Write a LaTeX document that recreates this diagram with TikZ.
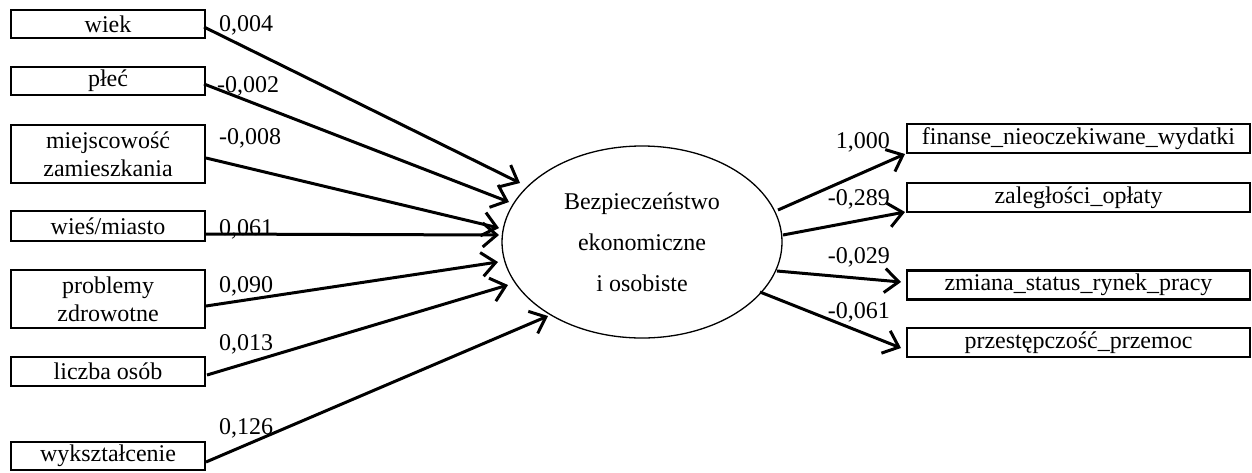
\documentclass[tikz,border=0pt]{standalone}
\usepackage{fontspec}
\setmainfont{Liberation Serif}
\usetikzlibrary{arrows.meta,shapes.geometric}
\begin{document}
\begin{tikzpicture}[x=1pt,y=-1pt,
  font=\fontsize{24}{28}\selectfont,
  inbox/.style={draw,line width=2.5pt,minimum width=194pt,inner sep=0pt,align=center},
  outbox/.style={draw,line width=2.5pt,minimum width=343pt,minimum height=29pt,inner sep=0pt},
  path/.style={line width=3pt,-{Straight Barb[length=14pt,width=24pt,line width=3pt]}},
  coef/.style={inner sep=0pt}]
\useasboundingbox (0,0) rectangle (1252,472);

% exogenous variables
\node[inbox,minimum height=28pt] (wiek) at (108,24) {wiek};
\node[inbox,minimum height=28pt] (plec) at (108,81) {płeć};
\node[inbox,minimum height=58pt] (miej) at (108,154) {miejscowość\\zamieszkania};
\node[inbox,minimum height=30pt] (wies) at (108,226) {wieś/miasto};
\node[inbox,minimum height=58pt] (prob) at (108,299) {problemy\\zdrowotne};
\node[inbox,minimum height=29pt] (licz) at (108,371.5) {liczba osób};
\node[inbox,minimum height=28pt] (wyks) at (108,456) {wykształcenie};

% latent factor
\node[draw,ellipse,line width=1.3pt,minimum width=280pt,minimum height=192pt,inner sep=0pt,
      align=center,font=\fontsize{24}{41}\selectfont] (lat) at (642,242)
  {Bezpieczeństwo\\ekonomiczne\\i osobiste};

% indicators
\node[outbox] (fin) at (1078.5,138.5) {finanse\_nieoczekiwane\_wydatki};
\node[outbox] (zal) at (1078.5,197.5) {zaległości\_opłaty};
\node[outbox] (zmi) at (1078.5,285) {zmiana\_status\_rynek\_pracy};
\node[outbox] (prz) at (1078.5,342.5) {przestępczość\_przemoc};

% path start and end points
\coordinate (s1) at (204,27);   \coordinate (t1) at (520,183);
\coordinate (s2) at (204,84);   \coordinate (t2) at (509,202);
\coordinate (s3) at (206,158);  \coordinate (t3) at (499,228);
\coordinate (s4) at (205,234);  \coordinate (t4) at (499,235);
\coordinate (s5) at (206,306);  \coordinate (t5) at (498,262);
\coordinate (s6) at (207,375);  \coordinate (t6) at (508,285);
\coordinate (s7) at (206,462);  \coordinate (t7) at (548,316);
\coordinate (r1) at (778,210);  \coordinate (e1) at (905,154);
\coordinate (r2) at (783,235);  \coordinate (e2) at (905,212);
\coordinate (r3) at (777,271);  \coordinate (e3) at (901,282);
\coordinate (r4) at (760,292);  \coordinate (e4) at (901,348);

\draw[path] (s1) -- (t1);
\draw[path] (s2) -- (t2);
\draw[path] (s3) -- (t3);
\draw[path] (s4) -- (t4);
\draw[path] (s5) -- (t5);
\draw[path] (s6) -- (t6);
\draw[path] (s7) -- (t7);
\draw[path] (r1) -- (e1);
\draw[path] (r2) -- (e2);
\draw[path] (r3) -- (e3);
\draw[path] (r4) -- (e4);

% coefficients
\node[coef,anchor=west] (c1) at (219,25) {0,004};
\node[coef,anchor=west] (c2) at (217,86) {-0,002};
\node[coef,anchor=west] (c3) at (219,138) {-0,008};
\node[coef,anchor=west] (c4) at (219,229) {0,061};
\node[coef,anchor=west] (c5) at (219,286) {0,090};
\node[coef,anchor=west] (c6) at (219,344) {0,013};
\node[coef,anchor=west] (c7) at (219,428) {0,126};
\node[coef,anchor=east] (d1) at (890,142) {1,000};
\node[coef,anchor=east] (d2) at (890,199) {-0,289};
\node[coef,anchor=east] (d3) at (890,257) {-0,029};
\node[coef,anchor=east] (d4) at (890,312) {-0,061};
\end{tikzpicture}
\end{document}
